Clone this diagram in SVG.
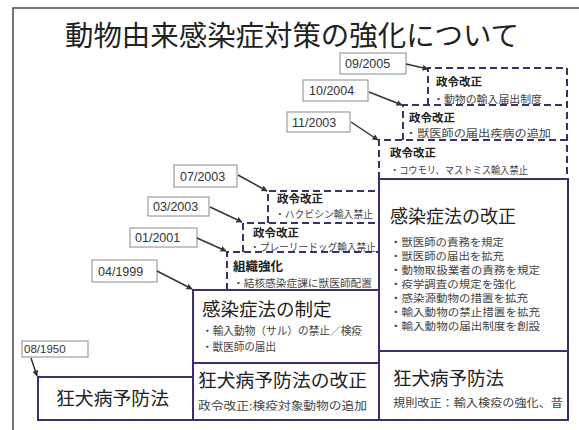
<svg xmlns="http://www.w3.org/2000/svg" width="579" height="430" viewBox="0 0 579 430">
<defs>
<marker id="ah" viewBox="0 0 10 10" refX="9" refY="5" markerWidth="6" markerHeight="6" orient="auto" markerUnits="userSpaceOnUse">
<path d="M0,0 L10,5 L0,10 z" fill="#333"/>
</marker>
<style>
.frame{fill:none;stroke:#4a4a4a;stroke-width:1.5}
.title{font-family:"Noto Sans CJK JP","Noto Sans",sans-serif;font-size:28px;fill:#222}
.box{fill:#fff;stroke:#3d2f6c;stroke-width:2}
.dash{fill:none;stroke:#3d2f6c;stroke-width:2;stroke-dasharray:7 4}
.lbl{fill:#fff;stroke:#8a8a8a;stroke-width:1}
.lt{font-family:"Liberation Sans",Arial,sans-serif;font-size:12.5px;fill:#333}
.h{font-family:"Noto Sans CJK JP",sans-serif;font-weight:700;font-size:11.5px;fill:#222}
.s{font-family:"Noto Sans CJK JP",sans-serif;font-size:10px;fill:#444}
.big{font-family:"Noto Sans CJK JP",sans-serif;font-size:18.5px;fill:#222}
.m{font-family:"Noto Sans CJK JP",sans-serif;font-size:11px;fill:#444}
.it{font-family:"Noto Sans CJK JP",sans-serif;font-size:10.5px;fill:#444}
.arr{stroke:#333;stroke-width:1.5;fill:none;marker-end:url(#ah)}
</style>
</defs>
<rect width="579" height="430" fill="#fff"/>
<path class="frame" d="M13,430 V8 H579"/>
<text class="title" x="65" y="46" textLength="454" lengthAdjust="spacingAndGlyphs">動物由来感染症対策の強化について</text>

<g id="node-2005">
<path class="dash" d="M428,105 V68 H567"/>
<text class="h" x="436" y="86">政令改正</text>
<text class="s" x="433" y="103" textLength="109" lengthAdjust="spacingAndGlyphs">・動物の輸入届出制度</text>
</g>
<g id="node-2004">
<path class="dash" d="M403,140 V105 H567"/>
<text class="h" x="409" y="122">政令改正</text>
<text class="s" x="405" y="137" textLength="146" lengthAdjust="spacingAndGlyphs">・獣医師の届出疾病の追加</text>
</g>
<g id="node-2003-11">
<path class="dash" d="M379,179 V140 H567"/>
<path class="dash" d="M567,68 V179"/>
<text class="h" x="390" y="157">政令改正</text>
<text class="s" x="390" y="174" textLength="138" lengthAdjust="spacingAndGlyphs">・コウモリ、マストミス輸入禁止</text>
</g>
<g id="node-2003-07">
<path class="dash" d="M268,223 V191 H379"/>
<text class="h" x="277" y="203">政令改正</text>
<text class="s" x="275" y="218" textLength="98" lengthAdjust="spacingAndGlyphs">・ハクビシン輸入禁止</text>
</g>
<g id="node-2003-03">
<path class="dash" d="M243,252 V223 H379"/>
<text class="h" x="253" y="237">政令改正</text>
<text class="s" x="250" y="251" textLength="126" lengthAdjust="spacingAndGlyphs">・プレーリードッグ輸入禁止</text>
</g>
<g id="node-2001">
<path class="dash" d="M227,290 V252 H379"/>
<text class="h" x="233" y="271" style="font-size:12.5px">組織強化</text>
<text class="s" x="233" y="287" textLength="139" lengthAdjust="spacingAndGlyphs">・結核感染症課に獣医師配置</text>
</g>

<g id="node-1999">
<rect class="box" x="193" y="290" width="186" height="73"/>
<text class="big" x="202" y="316">感染症法の制定</text>
<text class="m" x="202" y="335" textLength="160" lengthAdjust="spacingAndGlyphs">・輸入動物（サル）の禁止／検疫</text>
<text class="m" x="202" y="351" textLength="74" lengthAdjust="spacingAndGlyphs">・獣医師の届出</text>
</g>
<g id="node-1950">
<rect class="box" x="38" y="377" width="155" height="43"/>
<text class="big" x="56" y="405" textLength="113" lengthAdjust="spacingAndGlyphs">狂犬病予防法</text>
</g>
<g id="node-kyoken-kaisei">
<rect class="box" x="193" y="363" width="186" height="57"/>
<text class="big" x="198" y="387" textLength="169" lengthAdjust="spacingAndGlyphs">狂犬病予防法の改正</text>
<text class="m" x="198" y="410" textLength="169" lengthAdjust="spacingAndGlyphs">政令改正:検疫対象動物の追加</text>
</g>
<g id="node-kyoken-right">
<rect class="box" x="379" y="351" width="189" height="69"/>
<text class="big" x="393" y="385" textLength="111" lengthAdjust="spacingAndGlyphs">狂犬病予防法</text>
<text class="m" x="393" y="407" textLength="170" lengthAdjust="spacingAndGlyphs">規則改正：輸入検疫の強化、昔</text>
</g>
<g id="node-kansen-kaisei">
<rect class="box" x="379" y="179" width="189" height="172"/>
<text class="big" x="390" y="223" style="font-size:18px">感染症法の改正</text>
<text class="it" x="390" y="246" textLength="114" lengthAdjust="spacingAndGlyphs">・獣医師の責務を規定</text>
<text class="it" x="390" y="260" textLength="114" lengthAdjust="spacingAndGlyphs">・獣医師の届出を拡充</text>
<text class="it" x="390" y="274" textLength="150" lengthAdjust="spacingAndGlyphs">・動物取扱業者の責務を規定</text>
<text class="it" x="390" y="288" textLength="126" lengthAdjust="spacingAndGlyphs">・疫学調査の規定を強化</text>
<text class="it" x="390" y="302" textLength="138" lengthAdjust="spacingAndGlyphs">・感染源動物の措置を拡充</text>
<text class="it" x="390" y="316" textLength="150" lengthAdjust="spacingAndGlyphs">・輸入動物の禁止措置を拡充</text>
<text class="it" x="390" y="330" textLength="150" lengthAdjust="spacingAndGlyphs">・輸入動物の届出制度を創設</text>
</g>

<g id="labels">
<g id="lbl-2005"><rect class="lbl" x="340" y="53" width="66" height="21"/><text class="lt" x="345" y="68">09/2005</text></g>
<g id="lbl-2004"><rect class="lbl" x="303" y="80" width="65" height="21"/><text class="lt" x="309" y="95">10/2004</text></g>
<g id="lbl-2003-11"><rect class="lbl" x="287" y="112" width="63" height="20"/><text class="lt" x="292" y="127">11/2003</text></g>
<g id="lbl-2003-07"><rect class="lbl" x="174" y="165" width="63" height="22"/><text class="lt" x="180" y="181">07/2003</text></g>
<g id="lbl-2003-03"><rect class="lbl" x="148" y="197" width="61" height="19"/><text class="lt" x="153" y="211">03/2003</text></g>
<g id="lbl-2001"><rect class="lbl" x="130" y="228" width="67" height="19"/><text class="lt" x="135" y="242">01/2001</text></g>
<g id="lbl-1999"><rect class="lbl" x="92" y="260" width="65" height="22"/><text class="lt" x="98" y="276">04/1999</text></g>
<g id="lbl-1950"><rect class="lbl" x="22" y="341" width="66" height="16"/><text class="lt" x="24" y="353" style="font-size:11.5px">08/1950</text></g>
</g>

<g id="connectors">
<line class="arr" x1="406" y1="64" x2="428" y2="69"/>
<line class="arr" x1="369" y1="92" x2="402" y2="105"/>
<line class="arr" x1="351" y1="122" x2="378" y2="140"/>
<line class="arr" x1="238" y1="175" x2="267" y2="191"/>
<line class="arr" x1="210" y1="207" x2="242" y2="222"/>
<line class="arr" x1="197" y1="238" x2="226" y2="251"/>
<line class="arr" x1="157" y1="271" x2="192" y2="289"/>
<line class="arr" x1="31" y1="358" x2="37" y2="376"/>
</g>
</svg>
